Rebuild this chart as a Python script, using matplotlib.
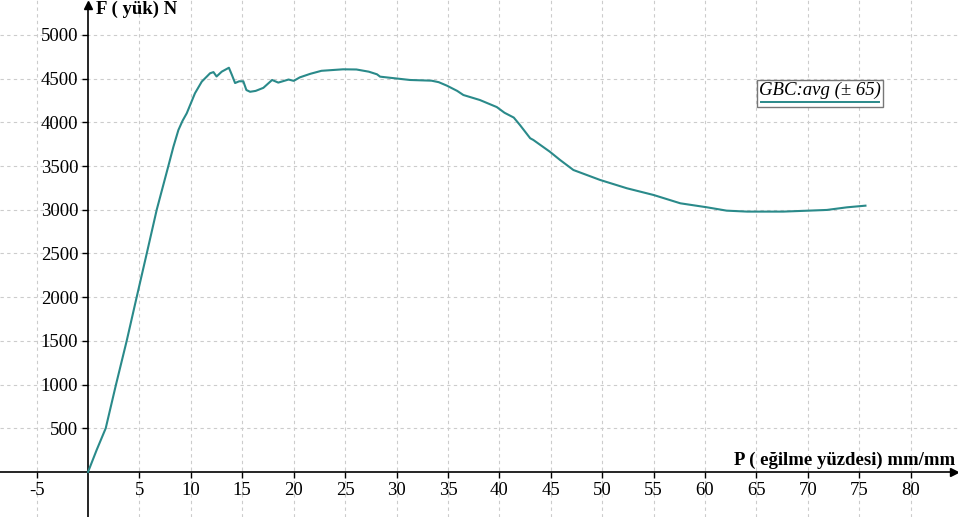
import numpy as np
import matplotlib.pyplot as plt
from matplotlib.patches import Rectangle

# values
p_vals = [0, 0.84, 1.72, 2.72, 3.76, 4.73, 5.71, 6.68, 7.81, 8.3, 8.79, 9.2, 9.6, 10.4, 11.06,
          11.87, 12.2, 12.5, 13.0, 13.7, 14.0, 14.3, 14.7, 15.1, 15.4, 15.76,
          16.3, 17.05, 17.9, 18.5, 19.5, 20.0, 20.6, 21.6, 22.7, 24.8, 26.1,
          27.3, 28.1, 28.4, 31.3, 33.4, 34.1, 34.9, 35.9, 36.5, 38.1, 39.75,
          40.5, 41.4, 42.0, 43.0, 43.3, 44.9, 45.9, 47.2, 49.8, 52.4, 55.0,
          57.6, 60.2, 62.1, 64.1, 67.6, 71.85, 73.8, 75.6]
f_vals = [0, 252, 500, 1000, 1500, 2000, 2500, 3000, 3500, 3720, 3913, 4020, 4104, 4333, 4466,
          4562, 4575, 4525, 4580, 4625, 4540, 4450, 4470, 4470, 4370, 4350,
          4360, 4395, 4485, 4455, 4490, 4475, 4515, 4555, 4590, 4607, 4605,
          4580, 4550, 4523, 4485, 4477, 4460, 4420, 4360, 4313, 4256, 4175,
          4110, 4055, 3970, 3818, 3799, 3665, 3570, 3455, 3341, 3246, 3169,
          3074, 3028, 2990, 2979, 2979, 2998, 3028, 3047]
x_ticks = [-5, 5, 10, 15, 20, 25, 30, 35, 40, 45, 50, 55, 60, 65, 70, 75, 80]
y_ticks = [500, 1000, 1500, 2000, 2500, 3000, 3500, 4000, 4500, 5000]
legend_text = "GBC:avg (\u00b1 65)"

teal = "#2a8a8a"
plt.rcParams['font.family'] = ['Liberation Serif', 'DejaVu Serif']

fig = plt.figure(figsize=(9.58, 5.17), dpi=100)
ax = fig.add_axes([0, 0, 1, 1])
ax.set_xlim(-8.56, 84.6)
ax.set_ylim(-515, 5400)

# grid
for xv in x_ticks:
    ax.axvline(xv, color="#cccccc", lw=0.8, ls=(0, (3, 3)), zorder=0)
for yv in y_ticks:
    ax.axhline(yv, color="#cccccc", lw=0.8, ls=(0, (3, 3)), zorder=0)

ax.plot(p_vals, f_vals, color=teal, lw=1.5, zorder=3)

# axes through zero
for s in ['top', 'right']:
    ax.spines[s].set_visible(False)
ax.spines['left'].set_position(('data', 0))
ax.spines['bottom'].set_position(('data', 0))
ax.spines['left'].set_linewidth(1.2)
ax.spines['bottom'].set_linewidth(1.2)
ax.spines['left'].set_bounds(-515, 5340)
ax.spines['bottom'].set_bounds(-8.56, 84.2)
ax.plot(0, 5340, "^k", ms=6, clip_on=False, zorder=4)
ax.plot(84.2, 0, ">k", ms=6, clip_on=False, zorder=4)

ax.set_xticks(x_ticks)
ax.set_yticks(y_ticks)
ax.set_xticklabels([str(v) for v in x_ticks])
ax.set_yticklabels([str(v) for v in y_ticks])
ax.tick_params(axis='both', labelsize=13.5, length=4, width=1, direction='out', pad=3)

ax.text(0.75, 5390, "F ( y\u00fck) N", fontsize=13.5, fontweight='bold', va='top', ha='left')
ax.text(84.3, 30, "P ( e\u011filme y\u00fczdesi) mm/mm", fontsize=13.5, fontweight='bold',
        va='bottom', ha='right')

# legend box
ax.add_patch(Rectangle((0.790, 0.793), 0.1315, 0.0522, transform=ax.transAxes,
                       facecolor='white', edgecolor='#777777', lw=1, zorder=5))
ax.text(0.8555, 0.826, legend_text, transform=ax.transAxes, fontsize=13.5,
        style='italic', ha='center', va='center', zorder=6)
ax.plot([0.794, 0.918], [0.803, 0.803], transform=ax.transAxes, color=teal, lw=1.4, zorder=6)

fig.savefig("out.png", dpi=100)
